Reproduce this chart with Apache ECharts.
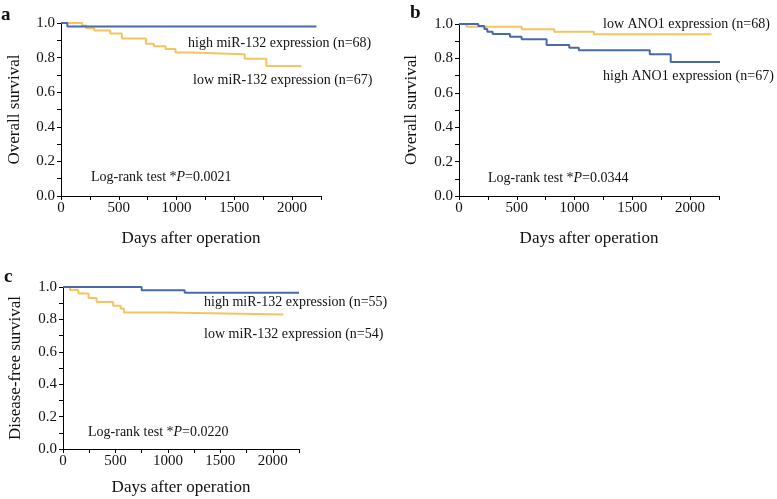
<!DOCTYPE html>
<html><head><meta charset="utf-8">
<script src="https://cdn.jsdelivr.net/npm/echarts@6/dist/echarts.min.js"></script>
<style>html,body{margin:0;padding:0;background:#fff}#c{width:777px;height:499px}</style>
</head><body><div id="c"></div>
<script>
// Panel a: overall survival by miR-132
const aHighDays = [0, 55, 2210];
const aHighSurv = [1, 0.98, 0.98];
const aLowDays = [0, 183, 218, 288, 426, 527, 736, 803, 904, 991, 1122, 1590, 1777, 2080];
const aLowSurv = [1, 0.985, 0.97, 0.956, 0.94, 0.91, 0.88, 0.865, 0.85, 0.83, 0.82, 0.793, 0.752, 0.752];
// Panel b: overall survival by ANO1
const bLowDays = [0, 66, 542, 824, 1167, 2186];
const bLowSurv = [1, 0.984, 0.97, 0.955, 0.94, 0.94];
const bHighDays = [0, 167, 219, 245, 291, 441, 542, 758, 954, 1037, 1651, 1832, 2312];
const bHighSurv = [1, 0.988, 0.971, 0.955, 0.942, 0.926, 0.911, 0.878, 0.862, 0.847, 0.824, 0.779, 0.779];
// Panel c: disease-free survival by miR-132
const cHighDays = [0, 750, 1160, 2250];
const cHighSurv = [1, 0.98, 0.964, 0.964];
const cLowDays = [0, 67, 147, 244, 320, 478, 550, 580, 985, 2100];
const cLowSurv = [1, 0.982, 0.96, 0.932, 0.907, 0.884, 0.867, 0.843, 0.831, 0.831];

const xTitle = 'Days after operation';
const yTitles = ['Overall survival', 'Overall survival', 'Disease-free survival'];

const BLUE = '#4a6aa6', YEL = '#f4c463', FONT = 'Liberation Serif', TXT = '#111';
const zip = (xs, ys) => xs.map((x, i) => [x, ys[i]]);

const grids = [
  {left: 61, top: 23, width: 260, height: 173},
  {left: 459, top: 24, width: 260, height: 172},
  {left: 63, top: 287, width: 236, height: 162}
];
const xNameGap = [34, 34, 30];
const yNameGap = [38, 39, 39];

const xAxes = grids.map((g, i) => ({
  type: 'value', gridIndex: i, min: 0, max: 2250, interval: 250,
  name: xTitle, nameLocation: 'middle', nameGap: xNameGap[i],
  nameTextStyle: {fontFamily: FONT, fontSize: 17, color: TXT},
  axisLine: {show: true, lineStyle: {color: '#000', width: 1}},
  axisTick: {show: true, length: 4, lineStyle: {color: '#000'}},
  splitLine: {show: false},
  axisLabel: {fontFamily: FONT, fontSize: 15, color: TXT, margin: 5,
    formatter: v => (Math.round(v) % 500 === 0 && v <= 2000) ? String(Math.round(v)) : ''}
}));
const yAxes = grids.map((g, i) => ({
  type: 'value', gridIndex: i, min: 0, max: 1, interval: 0.1,
  name: yTitles[i], nameLocation: 'middle', nameGap: yNameGap[i], nameRotate: 90,
  nameTextStyle: {fontFamily: FONT, fontSize: 17, color: TXT},
  axisLine: {show: true, lineStyle: {color: '#000', width: 1}},
  axisTick: {show: true, length: 4, lineStyle: {color: '#000'}},
  splitLine: {show: false},
  axisLabel: {fontFamily: FONT, fontSize: 15, color: TXT, margin: 6,
    formatter: v => (Math.round(v * 10) % 2 === 0) ? v.toFixed(1) : ''}
}));

function km(idx, xs, ys, color, z) {
  return {type: 'line', xAxisIndex: idx, yAxisIndex: idx, data: zip(xs, ys),
    step: 'end', symbol: 'none', clip: false, z: z,
    lineStyle: {color: color, width: 2}, itemStyle: {color: color}};
}
const series = [
  km(0, aLowDays, aLowSurv, YEL, 2), km(0, aHighDays, aHighSurv, BLUE, 3),
  km(1, bLowDays, bLowSurv, YEL, 2), km(1, bHighDays, bHighSurv, BLUE, 3),
  km(2, cLowDays, cLowSurv, YEL, 2), km(2, cHighDays, cHighSurv, BLUE, 3)
];

const rich = {n: {fontFamily: FONT, fontSize: 14, fill: TXT}, i: {fontFamily: FONT, fontSize: 14, fontStyle: 'italic', fill: TXT}};
function txt(x, y, s, size, bold) {
  return {type: 'text', x: x, y: y, style: {text: s, fontFamily: FONT, fontSize: size || 14,
    fontWeight: bold ? 'bold' : 'normal', fill: TXT, verticalAlign: 'middle', align: 'left'}};
}
function lr(x, y, p) {
  return {type: 'text', x: x, y: y, style: {text: '{n|Log-rank test *}{i|P}{n|=' + p + '}', rich: rich,
    verticalAlign: 'middle', align: 'left'}};
}
const graphic = [
  txt(1, 15, 'a', 19, true), txt(410, 13, 'b', 19, true), txt(4, 277, 'c', 19, true),
  txt(188, 43, 'high miR-132 expression (n=68)'), txt(193, 80, 'low miR-132 expression (n=67)'),
  lr(91, 177, '0.0021'),
  txt(603, 24, 'low ANO1 expression (n=68)'), txt(603, 76, 'high ANO1 expression (n=67)'),
  lr(488, 178, '0.0344'),
  txt(204, 302, 'high miR-132 expression (n=55)'), txt(204, 334, 'low miR-132 expression (n=54)'),
  lr(88, 432, '0.0220')
];

const chart = echarts.init(document.getElementById('c'), null, {renderer: 'canvas'});
chart.setOption({animation: false, backgroundColor: '#fff', grid: grids, xAxis: xAxes, yAxis: yAxes, series: series, graphic: graphic});
</script></body></html>
